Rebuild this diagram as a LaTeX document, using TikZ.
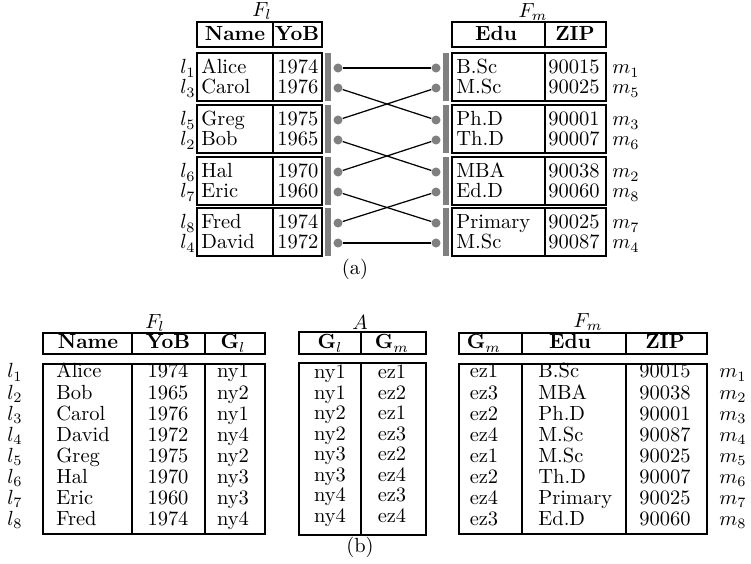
\documentclass[tikz,border=0pt]{standalone}
\usepackage{amsmath}
\usetikzlibrary{positioning}
\tikzset{
    dot/.style={circle, fill=gray, inner sep=0pt, minimum size=4.4pt},
    cell/.style={inner sep=0pt, anchor=west, text height=1.6ex, text depth=0.25ex},
    mid/.style={inner sep=0pt, text height=1.6ex, text depth=0.25ex},
    tab/.style={line width=1.3pt},
    thintab/.style={semithick}
}

\begin{document}
\begin{tikzpicture}[x=0.488pt, y=-0.488pt]
            \useasboundingbox (0,0) rectangle (751,563);

                % (a) Left table:
                \node (Fl) at (262,11) {$F_l$};
                \draw[thintab] (197,22) rectangle (322,47) (273,22) -- (273,47);
                \node[mid] (hName) at (235,35) {\textbf{Name}};
                \node[mid] (hYoB) at (297,35) {\textbf{YoB}};
                \foreach \t in {53,105,157,208} {
                    \draw[thintab] (197,\t) rectangle (322,\t+48) (273,\t) -- (273,\t+48);
                    \fill[gray] (325,\t) rectangle (331,\t+48);
                }
                \foreach \i/\y/\l/\n/\b in {1/68/1/Alice/1974, 2/88/3/Carol/1976, 3/120/5/Greg/1975, 4/140/2/Bob/1965, 5/172/6/Hal/1970, 6/192/7/Eric/1960, 7/223/8/Fred/1974, 8/243/4/David/1972} {
                    \node[cell] (ln\i) at (201,\y) {\n};
                    \node[cell] (ly\i) at (277,\y) {\b};
                    \node[cell, anchor=east] (ll\i) at (196,\y) {$l_{\l}$};
                    \node[dot] (ld\i) at (338,\y) {};
                }

                % (a) Right table:
                \node (Fm) at (533,12) {$F_m$};
                \draw[thintab] (452,22) rectangle (606,47) (545,22) -- (545,47);
                \node[mid] (hEdu) at (496,35) {\textbf{Edu}};
                \node[mid] (hZIP) at (575,35) {\textbf{ZIP}};
                \foreach \t in {53,105,157,208} {
                    \draw[thintab] (452,\t) rectangle (606,\t+48) (545,\t) -- (545,\t+48);
                    \fill[gray] (443,\t) rectangle (449,\t+48);
                }
                \foreach \i/\y/\e/\z/\m in {1/68/B.Sc/90015/1, 2/88/M.Sc/90025/5, 3/120/Ph.D/90001/3, 4/140/Th.D/90007/6, 5/172/MBA/90038/2, 6/192/Ed.D/90060/8, 7/223/Primary/90025/7, 8/243/M.Sc/90087/4} {
                    \node[cell] (re\i) at (456,\y) {\e};
                    \node[cell] (rz\i) at (548,\y) {\z};
                    \node[cell] (rm\i) at (612,\y) {$m_{\m}$};
                    \node[dot] (rd\i) at (436,\y) {};
                }

                % Links:
                \foreach \a/\b in {1/1, 2/3, 3/2, 4/5, 5/4, 6/7, 7/6, 8/8}
                    \draw[semithick] (ld\a) -- (rd\b);

                \node (capa) at (355,269) {(a)};

                % (b) F_l:
                \node (Fl2) at (155,323) {$F_l$};
                \draw[tab] (43,333) rectangle (265,354) (132,333) -- (132,354) (205,333) -- (205,354);
                \node[mid] (bName) at (88,343) {\textbf{Name}};
                \node[mid] (bYoB) at (168,343) {\textbf{YoB}};
                \node[mid] (bGl) at (233,343) {$\mathbf{G}_l$};
                \draw[tab] (43,364) rectangle (265,534) (132,364) -- (132,534) (205,364) -- (205,534);
                \foreach \i/\n/\b/\g in {1/Alice/1974/ny1, 2/Bob/1965/ny2, 3/Carol/1976/ny1, 4/David/1972/ny4, 5/Greg/1975/ny2, 6/Hal/1970/ny3, 7/Eric/1960/ny3, 8/Fred/1974/ny4} {
                    \node[mid] (bl\i) at (15,{372+21.1*(\i-1)}) {$l_{\i}$};
                    \node[cell] (bn\i) at (56,{372+21.1*(\i-1)}) {\n};
                    \node[mid] (by\i) at (168,{372+21.1*(\i-1)}) {\b};
                    \node[mid] (bg\i) at (233,{372+21.1*(\i-1)}) {\g};
                }

                % (b) A:
                \node (A) at (360,322) {$A$};
                \draw[tab] (299,332) rectangle (426,354) (361,332) -- (361,354);
                \node[mid] (aGl) at (330,343) {$\mathbf{G}_l$};
                \node[mid] (aGm) at (392,343) {$\mathbf{G}_m$};
                \draw[tab] (299,363) rectangle (426,535) (361,363) -- (361,535);
                \foreach \i/\g/\h in {1/ny1/ez1, 2/ny1/ez2, 3/ny2/ez1, 4/ny2/ez3, 5/ny3/ez2, 6/ny3/ez4, 7/ny4/ez3, 8/ny4/ez4} {
                    \node[mid] (ag\i) at (330,{373+20.5*(\i-1)}) {\g};
                    \node[mid] (ah\i) at (392,{373+20.5*(\i-1)}) {\h};
                }
                \node (capb) at (360,547) {(b)};

                % (b) F_m:
                \node (Fm2) at (588,322) {$F_m$};
                \draw[tab] (459,333) rectangle (707,354) (522,333) -- (522,354) (626,333) -- (626,354);
                \node[mid] (bGm) at (484,343) {$\mathbf{G}_m$};
                \node[mid] (bEdu) at (570,343) {\textbf{Edu}};
                \node[mid] (bZIP) at (665,343) {\textbf{ZIP}};
                \draw[tab] (459,364) rectangle (707,534) (522,364) -- (522,534) (626,364) -- (626,534);
                \foreach \i/\h/\e/\z in {1/ez1/B.Sc/90015, 2/ez3/MBA/90038, 3/ez2/Ph.D/90001, 4/ez4/M.Sc/90087, 5/ez1/M.Sc/90025, 6/ez2/Th.D/90007, 7/ez4/Primary/90025, 8/ez3/Ed.D/90060} {
                    \node[mid] (mh\i) at (484,{372+21.1*(\i-1)}) {\h};
                    \node[cell] (me\i) at (538,{372+21.1*(\i-1)}) {\e};
                    \node[mid] (mz\i) at (665,{372+21.1*(\i-1)}) {\z};
                    \node[mid] (mm\i) at (733,{372+21.1*(\i-1)}) {$m_{\i}$};
                }
            \end{tikzpicture}
\end{document}
